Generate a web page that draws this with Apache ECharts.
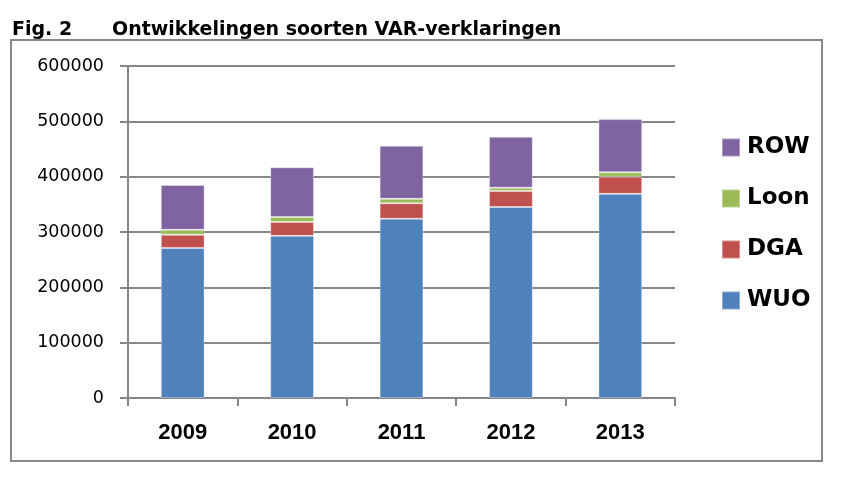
<!DOCTYPE html>
<html><head><meta charset="utf-8">
<script src="https://cdn.jsdelivr.net/npm/echarts@6/dist/echarts.min.js"></script>
<style>html,body{margin:0;padding:0;background:#fff}#c{width:854px;height:483px}</style>
</head><body><div id="c"></div>
<script>
var years = ['2009','2010','2011','2012','2013'];
var WUO = [271000, 293000, 324000, 345000, 369000];
var DGA = [24000, 25000, 28000, 29000, 31000];
var Loon = [9000, 9000, 8000, 6000, 8000];
var ROW = [81000, 90000, 96000, 92000, 96000];
var yTicks = [0, 100000, 200000, 300000, 400000, 500000, 600000];

var chart = echarts.init(document.getElementById('c'));
function s(name, data, color){
  return {name:name, type:'bar', stack:'t', data:data, barWidth:'40%',
    itemStyle:{color:color, borderColor:'rgba(255,255,255,0.35)', borderWidth:1}};
}
var tfont = {fontFamily:'DejaVu Sans', fontWeight:'bold', fontSize:19, color:'#000'};
chart.setOption({
  animation:false,
  backgroundColor:'#fff',
  title:[
    {text:'Fig. 2', left:12, top:21, padding:0, textStyle:tfont},
    {text:'Ontwikkelingen soorten VAR-verklaringen', left:112, top:21, padding:0, textStyle:tfont}
  ],
  graphic:[{type:'rect', shape:{x:11, y:40, width:811, height:421}, style:{fill:'none', stroke:'#888', lineWidth:2}, silent:true}],
  grid:{left:128, right:179, top:66, bottom:85},
  legend:{orient:'vertical', left:716, top:131, itemWidth:18, itemHeight:18, itemGap:28, icon:'rect',
    data:['ROW','Loon','DGA','WUO'],
    textStyle:{fontFamily:'DejaVu Sans', fontWeight:'bold', fontSize:23, color:'#000', padding:[0,0,0,2]}},
  xAxis:{type:'category', data:years,
    axisLine:{lineStyle:{color:'#868686', width:2}},
    axisTick:{show:true, length:8, lineStyle:{color:'#868686', width:2}},
    axisLabel:{margin:24, fontFamily:'Liberation Sans', fontWeight:'bold', fontSize:22, color:'#000'}},
  yAxis:{type:'value', min:yTicks[0], max:yTicks[yTicks.length-1], interval:100000,
    axisLine:{show:true, lineStyle:{color:'#868686', width:2}},
    axisTick:{show:true, length:8, lineStyle:{color:'#868686', width:2}},
    splitLine:{lineStyle:{color:'#868686', width:2}},
    axisLabel:{margin:24, fontFamily:'DejaVu Sans', fontSize:17.5, color:'#000', formatter:function(v){return String(v);}}},
  series:[s('WUO', WUO, '#4F81BD'), s('DGA', DGA, '#C0504D'), s('Loon', Loon, '#9BBB59'), s('ROW', ROW, '#8064A2')]
});
</script></body></html>
